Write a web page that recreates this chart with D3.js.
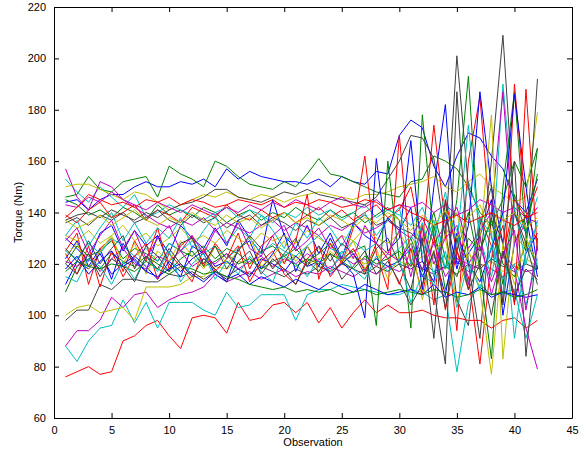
<!DOCTYPE html>
<html>
<head>
<meta charset="utf-8">
<script src="https://cdn.jsdelivr.net/npm/d3@7"></script>
<style>
  body { margin: 0; background: #fff; }
  text { font-family: "Liberation Sans", Arial, sans-serif; font-size: 11px; fill: #000; }
</style>
</head>
<body>
<svg id="chart" width="587" height="450"></svg>
<script>
var observation = [1,2,3,4,5,6,7,8,9,10,11,12,13,14,15,16,17,18,19,20,21,22,23,24,25,26,27,28,29,30,31,32,33,34,35,36,37,38,39,40,41,42];
var xTicks = [0,5,10,15,20,25,30,35,40,45];
var yTicks = [60,80,100,120,140,160,180,200,220];
var lineColors = ["#0000ff","#008000","#ff0000","#00bfbf","#bf00bf","#bfbf00","#404040"];

// torque per run, plotted in this order (colour cycles b g r c m y k)
var torque01 = [144,145,141,145,147,147,150,152,150,150,152,151,153,150,157,153,156,154,153,152,152,151,153,150,154,152,151,156,155,170,176,173,158,150,162,171,169,162,157,145,140,153];
var torque02 = [146,147,154,149,148,152,153,154,146,158,155,153,150,160,158,154,151,150,149,152,150,155,161,155,154,152,150,148,147,146,152,153,162,160,157,150,140,135,145,160,150,165];
var torque03 = [76,78,80,77,78,90,92,96,98,92,87,99,100,99,93,105,98,99,104,105,101,105,97,103,95,101,106,101,104,101,101,102,100,99,99,98,98,95,98,99,95,98];
var torque04 = [88,82,90,95,96,106,97,105,95,105,105,105,102,100,109,103,104,108,108,108,98,108,110,110,112,111,110,109,108,108,110,109,106,108,78,105,112,108,109,110,91,108];
var torque05 = [88,94,94,98,107,103,108,109,103,106,108,109,111,116,113,115,117,114,116,118,115,117,116,119,117,115,118,116,119,117,120,118,116,119,121,117,120,118,115,119,117,118];
var torque06 = [100,103,104,101,102,103,98,111,111,111,112,115,115,119,118,121,120,122,119,121,123,120,122,124,121,123,120,122,125,121,119,123,120,118,122,124,119,121,117,120,122,119];
var torque07 = [98,102,102,112,110,114,114,113,113,116,115,117,114,117,115,118,116,119,117,115,118,116,119,117,120,118,116,119,117,120,118,121,117,119,116,120,118,122,119,117,120,118];
var torque08 = [130,126,121,132,135,125,133,127,131,124,135,130,126,134,127,137,130,124,145,131,126,135,124,132,122,136,131,128,138,133,142,110,150,182,120,124,131,145,100,128,139,115];
var torque09 = [145,143,139,141,138,142,140,137,143,139,141,138,142,140,136,139,141,137,140,138,142,139,137,141,138,140,136,139,142,137,95,178,130,118,145,193,125,138,112,147,132,155];
var torque10 = [139,136,141,144,138,140,143,137,141,139,136,142,140,138,143,139,137,141,138,140,136,139,142,138,141,137,140,143,138,141,150,128,174,135,94,160,185,130,122,145,138,150];
var torque11 = [153,148,144,150,146,142,147,138,140,143,141,139,137,140,142,138,141,139,136,140,138,142,139,141,137,140,143,138,141,139,135,142,130,148,125,152,138,120,190,140,132,146];
var torque12 = [157,146,141,152,150,145,142,139,136,134,137,135,138,133,136,134,132,135,137,133,136,134,131,135,133,136,132,134,137,133,130,138,128,135,142,126,133,140,187,128,136,142];
var torque13 = [150,151,151,149,147,145,148,147,144,141,143,145,147,146,148,146,145,147,146,144,146,147,148,147,146,145,147,147,148,150,151,152,154,150,148,152,155,150,147,144,146,179];
var torque14 = [137,139,140,138,141,139,137,140,138,141,143,144,146,149,149,146,145,144,146,148,147,149,147,146,145,144,143,146,153,160,170,169,161,130,201,150,120,160,209,140,125,192];
var torque15 = [122,129,119,126,114,128,121,117,131,120,115,127,124,116,113,126,129,118,124,132,117,127,119,130,121,116,99,161,125,130,168,121,113,140,118,135,187,150,128,105,124,132];
var torque16 = [120,127,123,125,129,122,126,124,121,128,125,123,127,122,126,124,120,125,127,123,126,121,124,128,122,125,127,96,160,121,130,117,135,110,125,140,118,83,150,187,130,118];
var torque17 = [125,132,112,126,130,117,129,121,134,118,127,131,119,128,122,132,118,127,131,120,129,147,114,128,120,134,162,124,110,170,120,135,104,145,125,110,138,127,105,190,140,128];
var torque18 = [125,122,128,124,130,127,123,126,121,128,125,129,124,127,122,126,130,124,128,125,123,127,131,126,124,129,125,128,122,126,131,124,137,118,128,174,130,115,140,91,125,135];
var torque19 = [143,142,146,144,148,145,143,141,144,142,140,143,141,139,142,140,143,141,144,142,145,143,141,144,146,143,142,145,141,143,142,144,140,143,139,141,145,143,140,142,138,136];
var torque20 = [131,129,133,128,131,135,129,132,127,130,134,129,131,128,133,130,127,132,129,131,128,133,130,127,131,129,134,130,128,132,125,136,122,131,140,120,128,178,83,131,126,135];
var torque21 = [136,138,135,139,137,140,136,138,141,137,135,139,136,138,134,137,139,135,138,136,133,137,135,138,134,136,139,135,137,134,132,128,110,81,187,120,91,140,128,160,84,130];
var torque22 = [112,121,118,124,116,120,123,119,114,121,117,122,125,119,121,118,115,122,120,117,123,119,121,116,120,124,118,122,119,121,128,115,124,108,132,120,113,126,140,186,150,118];
var torque23 = [109,119,122,118,124,121,119,123,120,117,122,125,119,121,124,120,122,118,121,123,119,122,120,124,121,118,123,120,122,125,119,128,140,122,115,130,125,137,120,115,128,165];
var torque24 = [124,116,127,111,125,115,123,128,114,124,119,113,126,117,122,127,113,121,125,116,112,122,127,115,121,126,117,128,122,112,126,108,131,102,125,115,81,122,135,104,188,125];
var torque25 = [131,137,127,134,140,129,136,128,134,130,138,126,133,139,128,134,130,139,133,126,136,130,138,134,127,135,140,131,137,142,120,136,115,140,133,112,138,131,108,142,120,137];
var torque26 = [121,119,124,117,122,126,120,118,123,121,125,119,122,120,124,118,121,123,119,122,120,124,121,118,123,120,122,119,124,121,126,118,128,115,122,120,127,113,125,118,95,79];
var torque27 = [123,128,118,125,131,120,128,116,125,121,129,123,118,127,120,125,131,119,123,129,121,127,117,125,121,129,118,126,114,123,128,106,125,130,105,126,110,77,128,112,130,120];
var torque28 = [126,121,129,120,126,131,118,127,123,117,128,130,120,127,118,125,131,126,118,124,130,119,127,121,128,124,116,126,130,120,110,130,91,145,106,96,135,150,104,140,128,112];
var torque29 = [118,123,116,121,125,119,122,117,115,118,120,116,113,117,114,116,112,115,113,111,114,112,110,113,111,109,112,110,108,109,110,108,112,107,109,108,111,107,109,108,107,108];
var torque30 = [117,121,119,118,120,119,117,121,118,116,119,118,116,117,115,114,112,111,110,111,109,110,109,110,108,109,110,108,109,110,109,108,110,109,107,108,110,108,109,107,108,110];
var torque31 = [138,142,147,145,143,144,142,145,144,146,143,145,144,142,143,145,144,143,145,142,144,143,145,144,142,143,145,144,141,143,140,138,135,137,139,136,138,140,137,135,138,140];
var torque32 = [115,113,122,119,112,121,114,123,117,125,113,120,124,114,121,116,123,117,113,124,120,115,122,117,125,118,114,123,117,122,105,116,112,125,103,121,110,127,114,120,104,122];
var torque33 = [129,134,124,131,137,126,133,122,130,135,125,131,124,133,128,136,126,123,131,135,125,129,134,126,131,122,135,128,124,133,115,134,120,130,135,112,131,108,124,133,102,127];
var torque34 = [137,134,136,139,135,138,141,137,135,138,136,140,137,135,139,136,138,134,137,140,136,138,135,139,137,134,138,136,140,137,133,139,135,141,130,138,143,132,137,140,134,138];
var torque35 = [120,116,124,115,122,119,113,123,118,126,120,115,122,118,113,121,125,116,122,118,112,121,117,124,114,119,125,116,121,113,104,112,125,103,130,110,120,100,125,108,118,114];

var runs = [torque01,torque02,torque03,torque04,torque05,torque06,torque07,
            torque08,torque09,torque10,torque11,torque12,torque13,torque14,
            torque15,torque16,torque17,torque18,torque19,torque20,torque21,
            torque22,torque23,torque24,torque25,torque26,torque27,torque28,
            torque29,torque30,torque31,torque32,torque33,torque34,torque35];

var svg = d3.select("#chart");
var padLeft = 54, padRight = 572, padTop = 7, padBottom = 418;

var x = d3.scaleLinear().domain([0, 45]).range([padLeft, padRight]);
var y = d3.scaleLinear().domain([60, 220]).range([padBottom, padTop]);

svg.append("clipPath").attr("id", "clip")
  .append("rect").attr("x", padLeft).attr("y", padTop)
  .attr("width", padRight - padLeft).attr("height", padBottom - padTop);

var line = d3.line()
  .x(function(d, i) { return x(observation[i]); })
  .y(function(d) { return y(d); });

svg.append("g").attr("clip-path", "url(#clip)")
  .selectAll("path")
  .data(runs).enter()
  .append("path")
  .attr("d", line)
  .attr("fill", "none")
  .attr("stroke", function(d, i) { return lineColors[i % lineColors.length]; })
  .attr("stroke-width", 1);

// axes, ticks pointing in, mirrored on top and right
svg.append("g").attr("transform", "translate(0," + padBottom + ")")
  .call(d3.axisBottom(x).tickValues(xTicks).tickSizeInner(-5).tickSizeOuter(0).tickPadding(8));
svg.append("g").attr("transform", "translate(" + padLeft + ",0)")
  .call(d3.axisLeft(y).tickValues(yTicks).tickSizeInner(-5).tickSizeOuter(0).tickPadding(8));
svg.append("g").attr("transform", "translate(0," + padTop + ")")
  .call(d3.axisTop(x).tickValues(xTicks).tickSizeInner(-5).tickSizeOuter(0).tickFormat(""));
svg.append("g").attr("transform", "translate(" + padRight + ",0)")
  .call(d3.axisRight(y).tickValues(yTicks).tickSizeInner(-5).tickSizeOuter(0).tickFormat(""));

svg.selectAll(".domain").attr("stroke", "#000").attr("stroke-width", 1);
svg.selectAll(".tick line").attr("stroke", "#000");
svg.selectAll(".tick text").style("font-size", "11px").attr("fill", "#000");

svg.append("text")
  .attr("x", (padLeft + padRight) / 2).attr("y", 446)
  .attr("text-anchor", "middle")
  .text("Observation");

svg.append("text")
  .attr("transform", "translate(22," + (padTop + padBottom) / 2 + ") rotate(-90)")
  .attr("text-anchor", "middle")
  .text("Torque (Nm)");
</script>
</body>
</html>
